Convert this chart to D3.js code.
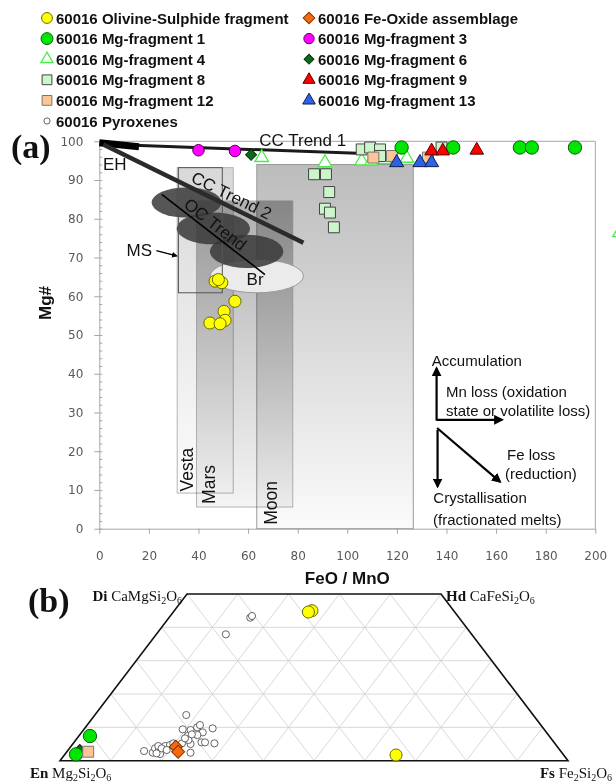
<!DOCTYPE html>
<html>
<head>
<meta charset="utf-8">
<script src="https://cdn.jsdelivr.net/npm/d3@7"></script>
<style>
  body { margin: 0; background: #fff; }
  svg { display: block; background: #fff; }
  .axis text { font-family: "DejaVu Sans", sans-serif; font-size: 12px; fill: #595959; }
  .axis path, .axis line { stroke: #a6a6a6; }
  .lbl { font-family: "Liberation Sans", Arial, sans-serif; fill: #111; }
  .serif { font-family: "Liberation Serif", "Times New Roman", serif; fill: #111; }
</style>
</head>
<body>
<div class="chart"></div>
<script>
// ---------- panel (a) : [FeO/MnO, Mg#] ----------
const olivineSulphideA = [[46.7, 63.9], [49.4, 63.5], [48, 64.3], [54.7, 58.7], [50.3, 56.1], [50.7, 53.8], [44.6, 53.1], [48.7, 52.9]]
const mgFrag1A = [[121.9, 98.4], [142.7, 98.4], [169.6, 98.4], [174.4, 98.4], [191.8, 98.4]]
const mgFrag3A = [[40, 97.7], [54.7, 97.5]]
const mgFrag4A = [[65.5, 95.8], [91, 94.5], [105.8, 94.9], [109.8, 94.9], [115, 95.3], [124, 95.6], [209.8, 76.4]]
const mgFrag6A = [[61.2, 96.5]]
const mgFrag8A = [[86.6, 91.5], [91.4, 91.5], [92.7, 86.9], [91, 82.6], [93, 81.6], [94.6, 77.8],
  [105.8, 97.9], [109.2, 98.4], [113.2, 97.9], [113.2, 96.2], [138, 98.4]]
const mgFrag9A = [[134, 97.5], [138.5, 97.5], [152.2, 97.7]]
const mgFrag12A = [[110.5, 95.8], [118, 96.2], [132.5, 95.8]]
const mgFrag13A = [[119.9, 94.5], [129.3, 94.5], [134, 94.5]]

const xTicks = d3.range(0, 201, 20)
const yTicks = d3.range(0, 101, 10)
const yMinorTicks = d3.range(0, 101, 2)

// planetary fields [FeO/MnO from, to] and [Mg# from, to]
const regionNames = ['Moon', 'Mars', 'Vesta']
const regionFeMn = [[63.5, 126.6], [39.2, 78.0], [31.4, 54.0]]
const regionMg = [[0, 94], [5.6, 84.6], [9.2, 93.2]]
const msBox = [[31.9, 49.6], [60.9, 93.2]]

// chondrite fields: [cx, cy, rx, ry] in data units
const ocFields = [[35.2, 84.2, 14.1, 3.9], [46, 77.5, 14.8, 4.1], [59.4, 71.6, 14.8, 4.3]]
const brField = [63.5, 65.2, 18.8, 4.3]

// trends [[x1, y1], [x2, y2]]
const ccTrend1 = [[0.3, 99.3], [104, 96.9]]
const ehBar = [[0, 99.6], [16, 98.6]]
const ccTrend2 = [[1.6, 99.2], [82.3, 73.8]]
const ocTrend = [[25.2, 86.3], [66.8, 65.6]]

// ---------- panel (b) : [Wo %, Fs %] ----------
const pyroxenesB = [[13.7, 18.0], [9.4, 19.45], [9.2, 21.1], [10.0, 22.0], [8.5, 23.85], [9.7, 25.2], [7.4, 21.4],
  [7.7, 23.2], [5.5, 25.1], [5.5, 25.8], [5.2, 27.8], [5.0, 23.2], [6.2, 22.2], [2.4, 24.5], [2.9, 15.1],
  [2.4, 17.05], [3.7, 16.85], [3.2, 17.9], [2.0, 18.7], [4.4, 18.5], [4.7, 19.3], [5.2, 19.7], [5.2, 21.4],
  [6.7, 21.25], [4.4, 17.15], [3.7, 18.15], [3.2, 19.4], [2.2, 17.9], [10.7, 22.2], [7.9, 22.0],
  [42.9, 16.0], [43.4, 16.1], [37.9, 13.7]]
const olivineSulphideB = [[45, 27.1], [44.6, 26.6], [1.7, 65.3]]
const feOxideB = [[4.2, 20.7], [2.7, 21.9]]
const mgFrag6B = [[3.2, 2.3]]
const mgFrag1B = [[7.4, 2.2], [1.9, 2.2]]
const mgFrag12B = [[2.7, 4.2]]
const woGrid = [10, 20, 30, 40]
const compGrid = d3.range(10, 100, 10)

// legend
const legendCol1 = ['olivine', 'mg1', 'mg4', 'mg8', 'mg12', 'pyx']
const legendCol2 = ['feox', 'mg3', 'mg6', 'mg9', 'mg13']
const legendNames = {
  olivine: '60016 Olivine-Sulphide fragment', feox: '60016 Fe-Oxide assemblage',
  mg1: '60016 Mg-fragment 1', mg3: '60016 Mg-fragment 3', mg4: '60016 Mg-fragment 4',
  mg6: '60016 Mg-fragment 6', mg8: '60016 Mg-fragment 8', mg9: '60016 Mg-fragment 9',
  mg12: '60016 Mg-fragment 12', mg13: '60016 Mg-fragment 13', pyx: '60016 Pyroxenes'
}

// marker styles (rot: degrees, for diamonds drawn as turned squares)
const styles = {
  olivine: { shape: d3.symbolCircle, size: 115, fill: '#ffff00', stroke: '#6b6b00', sw: 1 },
  mg1: { shape: d3.symbolCircle, size: 140, fill: '#00e600', stroke: '#0b5e0b', sw: 1 },
  mg3: { shape: d3.symbolCircle, size: 105, fill: '#ff00ff', stroke: '#5e005e', sw: 1 },
  mg4: { shape: d3.symbolTriangle, size: 80, fill: '#ffffff', stroke: '#44ee44', sw: 1.3 },
  mg6: { shape: d3.symbolSquare, size: 60, fill: '#0a6b1a', stroke: '#03300a', sw: 1, rot: 45 },
  mg8: { shape: d3.symbolSquare, size: 120, fill: '#ccf5cc', stroke: '#444', sw: 1 },
  mg9: { shape: d3.symbolTriangle, size: 80, fill: '#ff0000', stroke: '#550000', sw: 1 },
  mg12: { shape: d3.symbolSquare, size: 120, fill: '#fbc596', stroke: '#777', sw: 1 },
  mg13: { shape: d3.symbolTriangle, size: 85, fill: '#2f60e8', stroke: '#10204a', sw: 1 },
  feox: { shape: d3.symbolSquare, size: 85, fill: '#f26b0f', stroke: '#8a3300', sw: 1, rot: 45 },
  pyx: { shape: d3.symbolCircle, size: 40, fill: '#ffffff', stroke: '#555', sw: 0.9 }
}
// field shading: top colour, bottom colour
const fieldShade = {
  Moon: ['#bcbcbc', '#fbfbfb'],
  Mars: ['#b0b0b0', '#f4f4f4'],
  Vesta: ['#d8d8d8', '#fcfcfc']
}

const W = 616, H = 784
const svg = d3.select('.chart').append('svg').attr('width', W).attr('height', H)
const defs = svg.append('defs')

Object.keys(fieldShade).forEach(n => {
  const lg = defs.append('linearGradient').attr('id', 'g-' + n)
    .attr('x1', '0%').attr('y1', '0%').attr('x2', '0%').attr('y2', '100%')
  lg.append('stop').attr('offset', '0%').attr('stop-color', fieldShade[n][0])
  lg.append('stop').attr('offset', '100%').attr('stop-color', fieldShade[n][1])
})

defs.append('marker').attr('id', 'arrow').attr('viewBox', '0 0 10 10')
  .attr('refX', 8).attr('refY', 5).attr('markerWidth', 4.5).attr('markerHeight', 4.5)
  .attr('orient', 'auto')
  .append('path').attr('d', 'M0,0 L10,5 L0,10 z').attr('fill', '#000')

function drawPoints(g, data, key, pos) {
  const st = styles[key]
  g.append('g').selectAll('path').data(data).join('path')
    .attr('d', d3.symbol().type(st.shape).size(st.size))
    .attr('transform', d => `translate(${pos(d)}) rotate(${st.rot || 0})`)
    .attr('fill', st.fill).attr('stroke', st.stroke).attr('stroke-width', st.sw)
}

// ================= legend =================
const legend = svg.append('g')
function legendColumn(keys, mx, tx) {
  keys.forEach((k, i) => {
    const y = 18 + i * 20.6
    const st = styles[k]
    legend.append('path')
      .attr('d', d3.symbol().type(st.shape).size(k === 'pyx' ? 30 : st.size * 0.8))
      .attr('transform', `translate(${mx},${y}) rotate(${st.rot || 0})`)
      .attr('fill', st.fill).attr('stroke', st.stroke).attr('stroke-width', st.sw)
    legend.append('text').attr('class', 'lbl').attr('x', tx).attr('y', y + 5.5)
      .style('font-size', '15px').style('font-weight', 'bold').text(legendNames[k])
  })
}
legendColumn(legendCol1, 47, 56)
legendColumn(legendCol2, 309, 318)

// ================= panel (a) =================
const xScale = d3.scaleLinear([0, 200], [99.3, 595.3])
const yScale = d3.scaleLinear([0, 100], [528.7, 141.3])
const pa = svg.append('g')
const posA = d => [xScale(d[0]), yScale(d[1])]

// planetary fields (multiply so overlaps darken)
regionNames.forEach((n, i) => {
  pa.append('rect')
    .attr('x', xScale(regionFeMn[i][0])).attr('y', yScale(regionMg[i][1]))
    .attr('width', xScale(regionFeMn[i][1]) - xScale(regionFeMn[i][0]))
    .attr('height', yScale(regionMg[i][0]) - yScale(regionMg[i][1]))
    .attr('fill', `url(#g-${n})`).style('mix-blend-mode', 'multiply')
    .attr('stroke', n === 'Moon' ? '#9a9a9a' : '#b5b5b5').attr('stroke-width', 1)
})

// Br field then OC fields
pa.append('ellipse')
  .attr('cx', xScale(brField[0])).attr('cy', yScale(brField[1]))
  .attr('rx', xScale(brField[2]) - xScale(0)).attr('ry', yScale(0) - yScale(brField[3]))
  .attr('fill', '#ebebeb').attr('stroke', '#9a9a9a').attr('stroke-width', 1)
pa.append('g').selectAll('ellipse').data(ocFields).join('ellipse')
  .attr('cx', d => xScale(d[0])).attr('cy', d => yScale(d[1]))
  .attr('rx', d => xScale(d[2]) - xScale(0)).attr('ry', d => yScale(0) - yScale(d[3]))
  .attr('fill', '#383838').attr('fill-opacity', 0.85)

// MS box
pa.append('rect')
  .attr('x', xScale(msBox[0][0])).attr('y', yScale(msBox[1][1]))
  .attr('width', xScale(msBox[0][1]) - xScale(msBox[0][0]))
  .attr('height', yScale(msBox[1][0]) - yScale(msBox[1][1]))
  .attr('fill', 'none').attr('stroke', '#555').attr('stroke-width', 1)

// axes
pa.append('g').attr('class', 'axis')
  .attr('transform', `translate(0,${yScale(0)})`)
  .call(d3.axisBottom(xScale).tickValues(xTicks).tickSize(5).tickPadding(18).tickSizeOuter(0))
pa.append('g').attr('class', 'axis')
  .attr('transform', `translate(${xScale(0)},0)`)
  .call(d3.axisLeft(yScale).tickValues(yTicks).tickSize(5).tickPadding(11).tickSizeOuter(0))
pa.append('g').attr('class', 'axis')
  .attr('transform', `translate(${xScale(0)},0)`)
  .call(d3.axisRight(yScale).tickValues(yMinorTicks).tickSize(3).tickFormat(''))
  .select('.domain').remove()
// top and right frame
pa.append('line').attr('x1', xScale(0)).attr('x2', xScale(200)).attr('y1', yScale(100)).attr('y2', yScale(100))
  .attr('stroke', '#a6a6a6')
pa.append('line').attr('x1', xScale(200)).attr('x2', xScale(200)).attr('y1', yScale(100)).attr('y2', yScale(0))
  .attr('stroke', '#a6a6a6')

// trend lines
function trend(seg, width, color) {
  pa.append('line')
    .attr('x1', xScale(seg[0][0])).attr('y1', yScale(seg[0][1]))
    .attr('x2', xScale(seg[1][0])).attr('y2', yScale(seg[1][1]))
    .attr('stroke', color).attr('stroke-width', width)
}
trend(ccTrend1, 3, '#1a1a1a')
trend(ehBar, 7, '#000')
trend(ccTrend2, 4.5, '#2b2b2b')
trend(ocTrend, 1.6, '#000')

function angleOf(seg) {
  return Math.atan2(yScale(seg[1][1]) - yScale(seg[0][1]), xScale(seg[1][0]) - xScale(seg[0][0])) * 180 / Math.PI
}
function note(text, x, y, size, rot) {
  pa.append('text').attr('class', 'lbl')
    .attr('transform', `translate(${xScale(x)},${yScale(y)}) rotate(${rot || 0})`)
    .style('font-size', size + 'px').text(text)
}
note('CC Trend 1', 64.5, 98.7, 17)
note('EH', 1.5, 92.7, 17)
note('MS', 11, 70.3, 17)
note('Br', 59.4, 63, 17)
note('CC Trend 2', 36.6, 89.6, 17, angleOf(ccTrend2))
note('OC Trend', 33.6, 83.2, 17, angleOf(ocTrend))
note('Vesta', 37.8, 9.6, 17.5, -90)
note('Mars', 46.7, 6.4, 17.5, -90)
note('Moon', 71.5, 1, 17.5, -90)

// MS pointer
pa.append('line').attr('x1', xScale(23)).attr('y1', yScale(71.8)).attr('x2', xScale(31.2)).attr('y2', yScale(70.4))
  .attr('stroke', '#000').attr('stroke-width', 1.3).attr('marker-end', 'url(#arrow)')

// data points
drawPoints(pa, mgFrag4A, 'mg4', posA)
drawPoints(pa, mgFrag8A, 'mg8', posA)
drawPoints(pa, mgFrag12A, 'mg12', posA)
drawPoints(pa, mgFrag1A, 'mg1', posA)
drawPoints(pa, mgFrag9A, 'mg9', posA)
drawPoints(pa, mgFrag13A, 'mg13', posA)
drawPoints(pa, mgFrag3A, 'mg3', posA)
drawPoints(pa, mgFrag6A, 'mg6', posA)
drawPoints(pa, olivineSulphideA, 'olivine', posA)

// process arrows
const arrows = [
  [[136, 27.9], [136, 41.4]],
  [[136, 28.1], [162.4, 28.1]],
  [[136.2, 26], [161.6, 12.1]],
  [[136.4, 25.5], [136.4, 10.9]]
]
pa.append('g').selectAll('line').data(arrows).join('line')
  .attr('x1', d => xScale(d[0][0])).attr('y1', d => yScale(d[0][1]))
  .attr('x2', d => xScale(d[1][0])).attr('y2', d => yScale(d[1][1]))
  .attr('stroke', '#000').attr('stroke-width', 2.2).attr('marker-end', 'url(#arrow)')
note('Accumulation', 134.1, 41.9, 15)
note('Mn loss (oxidation', 139.8, 34.1, 15)
note('state or volatilite loss)', 139.8, 29.1, 15)
note('Fe loss', 164.4, 17.8, 15)
note('(reduction)', 163.6, 12.8, 15)
note('Crystallisation', 134.7, 6.6, 15)
note('(fractionated melts)', 134.6, 1.0, 15)

// axis titles
svg.append('text').attr('class', 'lbl').attr('x', (xScale(0) + xScale(200)) / 2).attr('y', 584)
  .attr('text-anchor', 'middle').style('font-size', '17px').style('font-weight', 'bold').text('FeO / MnO')
svg.append('text').attr('class', 'lbl').attr('transform', 'translate(51,303) rotate(-90)')
  .attr('text-anchor', 'middle').style('font-size', '17px').style('font-weight', 'bold').text('Mg#')
svg.append('text').attr('class', 'serif').attr('x', 11).attr('y', 158)
  .style('font-size', '34px').style('font-weight', 'bold').text('(a)')

// ================= panel (b) =================
const tX = d3.scaleLinear([0, 100], [60, 568])   // Fs + Wo/2
const tY = d3.scaleLinear([0, 100], [760.7, 427.3]) // Wo
const posB = d => [tX(d[1] + d[0] / 2), tY(d[0])]
const pb = svg.append('g')

const gridSegs = []
woGrid.forEach(w => gridSegs.push([[w, 0], [w, 100 - w]]))
compGrid.forEach(f => gridSegs.push([[0, f], [Math.min(50, 100 - f), f]]))
compGrid.forEach(e => {
  const top = Math.min(50, 100 - e)
  gridSegs.push([[0, 100 - e], [top, 100 - e - top]])
})
pb.append('g').selectAll('line').data(gridSegs).join('line')
  .attr('x1', d => posB(d[0])[0]).attr('y1', d => posB(d[0])[1])
  .attr('x2', d => posB(d[1])[0]).attr('y2', d => posB(d[1])[1])
  .attr('stroke', '#d4d4d4').attr('stroke-width', 0.9)

const outline = [[0, 0], [50, 0], [50, 50], [0, 100]]
pb.append('path').attr('d', d3.line().x(d => posB(d)[0]).y(d => posB(d)[1])(outline) + 'Z')
  .attr('fill', 'none').attr('stroke', '#111').attr('stroke-width', 1.6)

drawPoints(pb, pyroxenesB, 'pyx', posB)
drawPoints(pb, feOxideB, 'feox', posB)
drawPoints(pb, olivineSulphideB, 'olivine', posB)
drawPoints(pb, mgFrag6B, 'mg6', posB)
drawPoints(pb, mgFrag1B, 'mg1', posB)
drawPoints(pb, mgFrag12B, 'mg12', posB)

function chemLabel(x, y, anchor, abbr, formula) {
  const t = pb.append('text').attr('class', 'serif').attr('x', x).attr('y', y)
    .attr('text-anchor', anchor).style('font-size', '15px')
  t.append('tspan').style('font-weight', 'bold').text(abbr + ' ')
  let sub = false
  formula.match(/\d+|\D+/g).forEach(p => {
    const isNum = /\d/.test(p)
    const ts = t.append('tspan').text(p)
    if (isNum) { ts.style('font-size', '10px').attr('dy', sub ? 0 : 3); sub = true }
    else if (sub) { ts.attr('dy', -3); sub = false }
  })
}
chemLabel(182, 601, 'end', 'Di', 'CaMgSi2O6')
chemLabel(446, 601, 'start', 'Hd', 'CaFeSi2O6')
chemLabel(30, 778, 'start', 'En', 'Mg2Si2O6')
chemLabel(612, 778, 'end', 'Fs', 'Fe2Si2O6')

svg.append('text').attr('class', 'serif').attr('x', 28).attr('y', 612)
  .style('font-size', '34px').style('font-weight', 'bold').text('(b)')
</script>
</body>
</html>
